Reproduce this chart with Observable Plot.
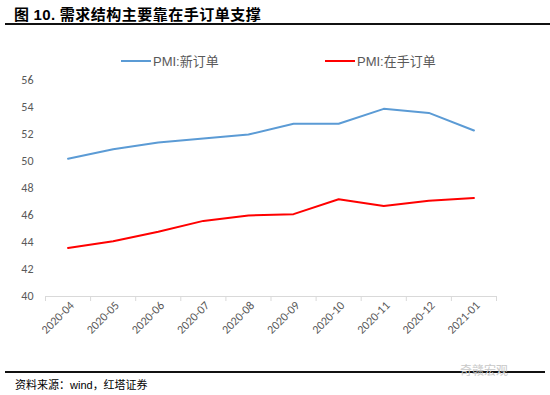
<!DOCTYPE html>
<html><head><meta charset="utf-8">
<script src="https://cdn.jsdelivr.net/npm/d3@7"></script>
<script src="https://cdn.jsdelivr.net/npm/@observablehq/plot@0.6"></script>
<style>
body{margin:0;background:#fff;width:550px;height:395px;position:relative;overflow:hidden;font-family:"Noto Sans CJK SC",sans-serif;}
#title{position:absolute;left:14px;top:3px;font-size:15px;font-weight:bold;color:#000;letter-spacing:0.5px;}
#title .num{font-family:"Liberation Sans",Arial,sans-serif;}
#topline{position:absolute;left:5px;right:0;top:23px;height:2px;background:#111;}
#botline{position:absolute;left:5px;width:540px;top:371px;height:2px;background:#111;}
#foot{position:absolute;left:15px;top:376px;font-size:11px;color:#000;}
#foot .w{font-family:"Liberation Sans",Arial,sans-serif;}
#wm{position:absolute;left:460px;top:361px;font-size:12px;color:#c8c8c8;}
#legend{position:absolute;top:51px;left:0;width:550px;height:20px;font-family:"Liberation Sans","Noto Sans CJK SC",sans-serif;font-size:13px;color:#595959;}
.li{position:absolute;top:0;display:flex;align-items:center;}
.sw{width:30px;height:2px;margin-right:2px;}
#chart{position:absolute;left:0;top:40px;}
</style></head>
<body>
<div id="title">图 <span class="num">10.</span> 需求结构主要靠在手订单支撑</div>
<div id="topline"></div>
<div id="legend"></div>
<div id="chart"></div>
<div id="botline"></div>
<div id="wm">奇赣宏观</div>
<div id="foot">资料来源：<span class="w">wind</span>，红塔证券</div>
<script>
const months = ["2020-04","2020-05","2020-06","2020-07","2020-08","2020-09","2020-10","2020-11","2020-12","2021-01"];
const newOrders = [50.2, 50.9, 51.4, 51.7, 52.0, 52.8, 52.8, 53.9, 53.6, 52.3];
const backlog = [43.6, 44.1, 44.8, 45.6, 46.0, 46.1, 47.2, 46.7, 47.1, 47.3];
const seriesNames = ["PMI:新订单", "PMI:在手订单"];
const seriesColors = ["#5b9bd5", "#ff0000"];
const yTicks = [40, 42, 44, 46, 48, 50, 52, 54, 56];

const data = [];
months.forEach((m, i) => {
  data.push({i: i + 0.5, m, v: newOrders[i], s: seriesNames[0]});
  data.push({i: i + 0.5, m, v: backlog[i], s: seriesNames[1]});
});

// legend
const leg = document.getElementById("legend");
const legX = [121, 325];
seriesNames.forEach((n, k) => {
  const d = document.createElement("div");
  d.className = "li";
  d.style.left = legX[k] + "px";
  d.innerHTML = `<div class="sw" style="background:${seriesColors[k]}"></div><span>${n}</span>`;
  leg.appendChild(d);
});

const chart = Plot.plot({
  width: 550,
  height: 300,
  marginLeft: 45,
  marginRight: 54,
  marginTop: 40,
  marginBottom: 44,
  style: {fontFamily: "Carlito, 'Liberation Sans', sans-serif", fontSize: "12px", color: "#595959", background: "transparent"},
  x: {type: "linear", domain: [0, months.length]},
  y: {domain: [40, 56]},
  color: {domain: seriesNames, range: seriesColors},
  marks: [
    Plot.axisY({ticks: yTicks, tickSize: 0, tickPadding: 12, label: null, fontSize: 12}),
    Plot.ruleY([40], {stroke: "#d9d9d9", strokeWidth: 1}),
    Plot.axisX({ticks: d3.range(0, months.length + 1), tickFormat: () => "", tickSize: 5, stroke: "#d9d9d9", label: null}),
    Plot.axisX({ticks: months.map((_, i) => i + 0.5), tickFormat: (d) => months[Math.floor(d)], tickSize: 0, tickRotate: -45, tickPadding: 7, dx: 4, label: null, fontSize: 12, fill: "#595959"}),
    Plot.line(data, {x: "i", y: "v", z: "s", stroke: "s", strokeWidth: 2})
  ]
});
document.getElementById("chart").appendChild(chart);
</script>
</body></html>
